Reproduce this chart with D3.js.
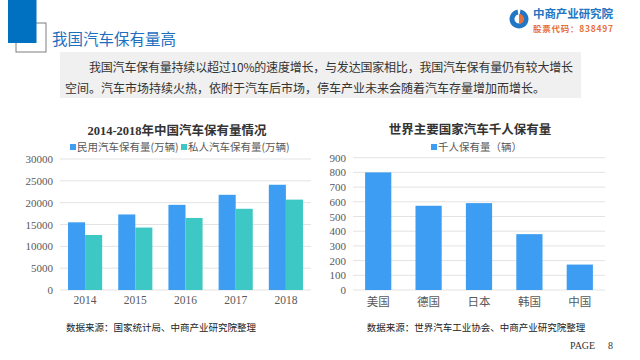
<!DOCTYPE html>
<html><head><meta charset="utf-8">
<script src="https://cdn.jsdelivr.net/npm/d3@7/dist/d3.min.js"></script>
<style>
html,body{margin:0;padding:0;background:#fff;}
svg{display:block;}
text{font-family:"Liberation Serif","Noto Sans CJK SC",serif;}
</style></head>
<body>
<svg id="c" width="640" height="360"></svg>
<script>
// ---- data ----
const years = ["2014","2015","2016","2017","2018"];
const civilCars = [15500, 17300, 19500, 21800, 24100];
const privateCars = [12600, 14300, 16500, 18600, 20700];
const leftTicks = [0,5000,10000,15000,20000,25000,30000];
const countries = ["美国","德国","日本","韩国","中国"];
const perThousand = [800, 573, 591, 380, 173];
const rightTicks = [0,100,200,300,400,500,600,700,800,900];
const seriesNames = ["民用汽车保有量(万辆)","私人汽车保有量(万辆)"];
const rightSeriesName = "千人保有量（辆）";

const BLUE = "#3d9df2", TEAL = "#3ec8c5";
const svg = d3.select("#c");
const CJK = '"Noto Sans CJK SC","Liberation Serif",sans-serif';

// ---- header ----
svg.append("rect").attr("x",16).attr("y",23).attr("width",30).attr("height",29)
  .attr("fill","none").attr("stroke","#7f7f7f").attr("stroke-width",1);
svg.append("rect").attr("x",8).attr("y",0).attr("width",28.5).attr("height",43).attr("fill","#0070c0");
svg.append("text").attr("x",52).attr("y",45).attr("font-size",15.5).attr("fill","#1f6fbf")
  .style("font-family",'"Noto Sans CJK SC",sans-serif').text("我国汽车保有量高");

// logo
const lg = svg.append("g").attr("transform","translate(519,19)");
lg.append("path").attr("d",d3.arc()({innerRadius:4.5,outerRadius:9.5,startAngle:Math.PI*0.05,endAngle:Math.PI*1.95})).attr("fill","#2376c3");
lg.append("path").attr("d",d3.arc()({innerRadius:0,outerRadius:5,startAngle:0,endAngle:Math.PI})).attr("fill","#e8703a");
svg.append("text").attr("x",533).attr("y",18).attr("font-size",11.5).attr("font-weight","bold").attr("fill","#2376c3")
  .style("font-family",'"Noto Sans CJK SC",sans-serif').attr("textLength",80).text("中商产业研究院");
svg.append("text").attr("x",533).attr("y",31.5).attr("font-size",8.5).attr("font-weight","bold").attr("fill","#e8703a")
  .style("font-family",'"Noto Sans CJK SC",sans-serif').attr("textLength",80).text("股票代码：838497");

// text box
svg.append("rect").attr("x",60).attr("y",52).attr("width",521).attr("height",46).attr("fill","#f0f0f0");
svg.append("text").attr("x",89).attr("y",72).attr("font-size",12).attr("fill","#333")
  .style("font-family",CJK).attr("textLength",484)
  .text("我国汽车保有量持续以超过10%的速度增长，与发达国家相比，我国汽车保有量仍有较大增长");
svg.append("text").attr("x",65).attr("y",93).attr("font-size",12).attr("fill","#333")
  .style("font-family",CJK).attr("textLength",480)
  .text("空间。汽车市场持续火热，依附于汽车后市场，停车产业未来会随着汽车存量增加而增长。");

// ---- left chart ----
const lx = d3.scaleBand().domain(years).range([60,311]).paddingInner(0.32).paddingOuter(0.16);
const ly = d3.scaleLinear().domain([0,30000]).range([290,159]);
const lg1 = svg.append("g");
lg1.selectAll("line.g").data(leftTicks).join("line")
  .attr("x1",60).attr("x2",311).attr("y1",d=>ly(d)).attr("y2",d=>ly(d))
  .attr("stroke","#e3e3e3").attr("stroke-width",1);
lg1.selectAll("text.yt").data(leftTicks).join("text")
  .attr("x",53).attr("y",d=>ly(d)+4).attr("text-anchor","end").attr("font-size",11).attr("fill","#595959").text(d=>d);
const bw = lx.bandwidth()/2;
lg1.selectAll("rect.a").data(years).join("rect")
  .attr("x",d=>lx(d)).attr("width",bw).attr("y",(d,i)=>ly(civilCars[i])).attr("height",(d,i)=>290-ly(civilCars[i])).attr("fill",BLUE);
lg1.selectAll("rect.b").data(years).join("rect")
  .attr("x",d=>lx(d)+bw).attr("width",bw).attr("y",(d,i)=>ly(privateCars[i])).attr("height",(d,i)=>290-ly(privateCars[i])).attr("fill",TEAL);
lg1.selectAll("text.xt").data(years).join("text")
  .attr("x",d=>lx(d)+lx.bandwidth()/2).attr("y",304).attr("text-anchor","middle").attr("font-size",11.5).attr("fill","#595959").text(d=>d);
svg.append("text").attr("x",177).attr("y",135).attr("text-anchor","middle").attr("font-size",12.5).attr("font-weight","bold").attr("fill","#333")
  .text("2014-2018年中国汽车保有量情况");
// legend
[[70,seriesNames[0],BLUE],[181,seriesNames[1],TEAL]].forEach(([x,t,c])=>{
  svg.append("rect").attr("x",x).attr("y",144).attr("width",6).attr("height",6).attr("fill",c);
  svg.append("text").attr("x",x+7).attr("y",151).attr("font-size",10.5).attr("fill","#595959").style("font-family",CJK).text(t);
});
svg.append("text").attr("x",161).attr("y",331).attr("text-anchor","middle").attr("font-size",9.5).attr("fill","#222")
  .style("font-family",CJK).text("数据来源：国家统计局、中商产业研究院整理");

// ---- right chart ----
const rx = d3.scaleBand().domain(countries).range([353,605]).paddingInner(0.48).paddingOuter(0.24);
const ry = d3.scaleLinear().domain([0,900]).range([290,157.7]);
const rg = svg.append("g");
rg.selectAll("line.g").data(rightTicks).join("line")
  .attr("x1",353).attr("x2",605).attr("y1",d=>ry(d)).attr("y2",d=>ry(d))
  .attr("stroke","#e3e3e3").attr("stroke-width",1);
rg.selectAll("text.yt").data(rightTicks).join("text")
  .attr("x",346).attr("y",d=>ry(d)+4).attr("text-anchor","end").attr("font-size",11).attr("fill","#595959").text(d=>d);
rg.selectAll("rect.a").data(countries).join("rect")
  .attr("x",d=>rx(d)).attr("width",rx.bandwidth()).attr("y",(d,i)=>ry(perThousand[i])).attr("height",(d,i)=>290-ry(perThousand[i])).attr("fill",BLUE);
rg.selectAll("text.xt").data(countries).join("text")
  .attr("x",d=>rx(d)+rx.bandwidth()/2).attr("y",306).attr("text-anchor","middle").attr("font-size",11.5).attr("fill","#595959")
  .style("font-family",CJK).text(d=>d);
svg.append("text").attr("x",470).attr("y",134).attr("text-anchor","middle").attr("font-size",12.5).attr("font-weight","bold").attr("fill","#333")
  .style("font-family",CJK).text("世界主要国家汽车千人保有量");
svg.append("rect").attr("x",431).attr("y",144).attr("width",6).attr("height",6).attr("fill",BLUE);
svg.append("text").attr("x",438).attr("y",151).attr("font-size",10.5).attr("fill","#595959").style("font-family",CJK).text(rightSeriesName);
svg.append("text").attr("x",476).attr("y",331).attr("text-anchor","middle").attr("font-size",9.5).attr("fill","#222")
  .style("font-family",CJK).text("数据来源：世界汽车工业协会、中商产业研究院整理");

// page
svg.append("text").attr("x",570).attr("y",349).attr("font-size",10).attr("fill","#333").text("PAGE");
svg.append("text").attr("x",608).attr("y",349).attr("font-size",10).attr("fill","#333").text("8");
</script>
</body></html>
